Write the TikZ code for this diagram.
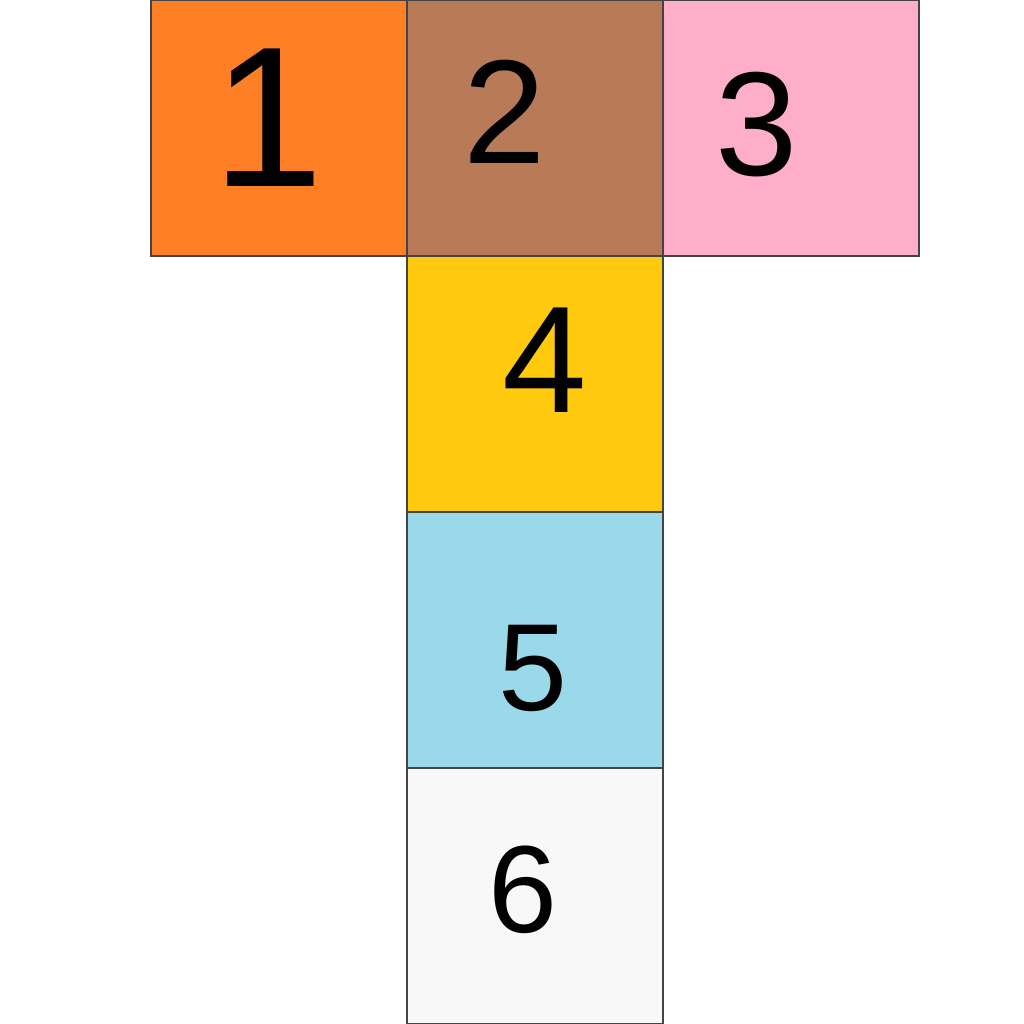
\documentclass[tikz,border=0pt]{standalone}
\usepackage{fontspec}
\setmainfont{Liberation Sans}
\definecolor{c1}{HTML}{FF7F27}
\definecolor{c2}{HTML}{B97A57}
\definecolor{c3}{HTML}{FFAEC9}
\definecolor{c4}{HTML}{FFC90E}
\definecolor{c5}{HTML}{99D9EA}
\definecolor{c6}{HTML}{F8F8F8}
\definecolor{edge}{HTML}{444444}
\tikzset{
  face/.style={draw=edge, line width=0.3pt, minimum size=64pt, inner sep=0pt, outer sep=0pt},
  digit/.style={inner sep=0pt, anchor=center, text=black},
}
\begin{document}
\begin{tikzpicture}[x=0.25pt,y=-0.25pt]
\useasboundingbox[fill=white] (0,0) rectangle (1024,1024);
\node[face, fill=c1] (s1) at (279,128) {};
\node[face, fill=c2] (s2) at (535,128) {};
\node[face, fill=c3] (s3) at (791,128) {};
\node[face, fill=c4] (s4) at (535,384) {};
\node[face, fill=c5] (s5) at (535,640) {};
\node[face, fill=c6] (s6) at (535,896) {};
\node[digit, font=\fontsize{50}{50}\selectfont] (d1) at (268,118) {1};
\node[digit, font=\fontsize{37}{37}\selectfont] (d2) at (505,112) {2};
\node[digit, font=\fontsize{37}{37}\selectfont] (d3) at (757,125) {3};
\node[digit, font=\fontsize{38}{38}\selectfont] (d4) at (545,360) {4};
\node[digit, font=\fontsize{31}{31}\selectfont] (d5) at (533,668) {5};
\node[digit, font=\fontsize{31}{31}\selectfont] (d6) at (523,890) {6};
\end{tikzpicture}
\end{document}
